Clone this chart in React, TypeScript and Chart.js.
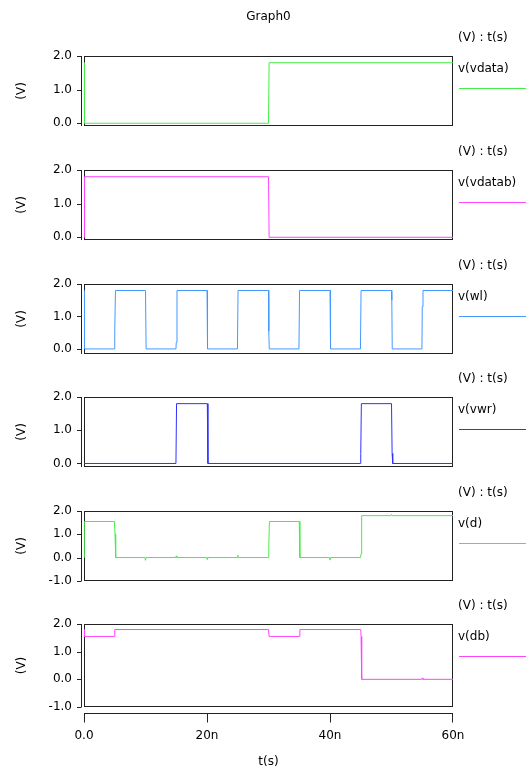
import React, { useEffect, useRef } from 'react';
import { Chart, registerables } from 'chart.js';
Chart.register(...registerables);

// ---- data (time in ns, voltage in V) ----
const xTickValues = [0, 20, 40, 60];
const xTickLabels = ['0.0', '20n', '40n', '60n'];
const yTicksSmall = [0, 1, 2];
const yTicksWide = [-1, 0, 1, 2];

const seriesNames = ['v(vdata)', 'v(vdatab)', 'v(wl)', 'v(vwr)', 'v(d)', 'v(db)'];
const seriesColors = ['#44ee44', '#ff44ff', '#4499ff', '#3030ff', '#44ee44', '#ff44ff'];

const vdataT = [0, 0.08, 30.0, 30.1, 60];
const vdataV = [1.8, 0, 0, 1.8, 1.8];

const vdatabT = [0, 0.08, 30.0, 30.1, 60];
const vdatabV = [0, 1.8, 1.8, 0, 0];

const wlT = [0, 0.08, 4.95, 5.0, 5.12, 10.0, 10.1, 14.95, 15.0, 15.12, 20.0, 20.05, 20.12,
  24.95, 25.05, 30.0, 30.05, 30.12, 34.95, 35.05, 40.0, 40.05, 40.12, 44.95, 45.05,
  50.0, 50.05, 50.12, 54.95, 55.0, 55.12, 60];
const wlV = [1.8, 0, 0, 0.6, 1.8, 1.8, 0, 0, 0.2, 1.8, 1.8, 0.55, 0, 0, 1.8, 1.8, 0.55, 0,
  0, 1.8, 1.8, 1.2, 0, 0, 1.8, 1.8, 1.5, 0, 0, 1.3, 1.8, 1.8];

const vwrT = [0, 14.95, 15.05, 20.05, 20.15, 44.95, 45.0, 45.1, 50.0, 50.1, 50.2, 60];
const vwrV = [0, 0, 1.8, 1.8, 0, 0, 0.3, 1.8, 1.8, 0.3, 0, 0];

const dT = [0, 0.05, 4.95, 5.05, 5.15, 9.9, 10.0, 10.1, 14.9, 15.0, 15.1, 19.9, 20.0, 20.1,
  24.9, 25.0, 25.1, 29.95, 30.05, 30.15, 35.0, 35.1, 39.9, 40.0, 40.1, 44.95, 45.05, 45.15,
  49.9, 50.0, 50.1, 60];
const dV = [0, 1.55, 1.55, 1.0, 0, 0, -0.12, 0, 0, 0.07, 0, 0, -0.08, 0,
  0, 0.1, 0, 0, 0.5, 1.55, 1.55, 0, 0, -0.1, 0, 0, 0.15, 1.8,
  1.8, 1.85, 1.8, 1.8];

const dbT = [0, 0.08, 4.9, 5.0, 30.0, 30.1, 35.0, 35.1, 45.0, 45.05, 45.15, 54.9, 55.0, 55.1, 60];
const dbV = [1.8, 1.55, 1.55, 1.8, 1.8, 1.55, 1.55, 1.8, 1.8, 1.55, 0, 0, 0.05, 0, 0];

const seriesT = [vdataT, vdatabT, wlT, vwrT, dT, dbT];
const seriesV = [vdataV, vdatabV, wlV, vwrV, dV, dbV];
const yMins = [-0.075, -0.075, -0.15, -0.1, -1, -1];
const yMaxs = [2, 2, 2, 2, 2, 2];
const yTickSets = [yTicksSmall, yTicksSmall, yTicksSmall, yTicksSmall, yTicksWide, yTicksWide];

// ---- layout ----
const W = 526;
const PANEL_TOPS = [56, 170, 284, 397, 511, 624];
const PANEL_H = 83;
const PLOT_LEFT = 84;
const PLOT_RIGHT = 453;
const FONT = { family: '"DejaVu Sans", sans-serif', size: 12 };
const FONT_CSS = '12px "DejaVu Sans", sans-serif';

function canvasGeom(i: number) {
  const last = i === 5;
  const top = i === 0 ? 0 : PANEL_TOPS[i] - 28;
  const padTop = PANEL_TOPS[i] - top;
  const height = last ? 771 - top : padTop + PANEL_H + 6;
  return { top, padTop, height, last };
}

const decorPlugin = {
  id: 'panelDecor',
  beforeDatasetsDraw(chart: any, _a: any, opts: any) {
    const { ctx, chartArea: ca } = chart;
    ctx.save();
    ctx.strokeStyle = '#222';
    ctx.lineWidth = 1;
    const l = Math.round(ca.left) + 0.5;
    const r = Math.round(ca.right) - 0.5;
    const t = Math.round(ca.top) + 0.5;
    const b = Math.round(ca.bottom) - 0.5;
    ctx.strokeRect(l, t, r - l, b - t);
    // offset y axis
    const ys = chart.scales.y;
    const ax = Math.round(ca.left) - 3 + 0.5;
    ctx.beginPath();
    ctx.moveTo(ax, t - 0.5);
    ctx.lineTo(ax, b + 0.5);
    ys.ticks.forEach((tk: any) => {
      const py = Math.round(ys.getPixelForValue(tk.value)) + 0.5;
      ctx.moveTo(ax - 4.5, py);
      ctx.lineTo(ax, py);
    });
    ctx.stroke();
    if (opts.last) {
      const xs = chart.scales.x;
      const ay = Math.round(ca.bottom) + 6 + 0.5;
      ctx.beginPath();
      ctx.moveTo(Math.round(ca.left), ay);
      ctx.lineTo(Math.round(ca.right), ay);
      xs.ticks.forEach((tk: any) => {
        let px = Math.round(xs.getPixelForValue(tk.value)) + 0.5;
        if (px > ca.right) px = Math.round(ca.right) - 0.5;
        ctx.moveTo(px, ay);
        ctx.lineTo(px, ay + 9);
      });
      ctx.stroke();
    }
    ctx.restore();
  },
  afterDraw(chart: any, _a: any, opts: any) {
    const { ctx, chartArea: ca } = chart;
    ctx.save();
    ctx.font = FONT_CSS;
    ctx.fillStyle = '#000';
    ctx.textBaseline = 'middle';
    if (opts.title) {
      ctx.textAlign = 'center';
      ctx.fillText(opts.title, (ca.left + ca.right) / 2, ca.top - 39);
    }
    ctx.textAlign = 'left';
    ctx.fillText('(V) : t(s)', 458, ca.top - 18);
    ctx.fillText(opts.name, 458, ca.top + 13);
    ctx.strokeStyle = opts.color;
    ctx.lineWidth = 1;
    ctx.beginPath();
    ctx.moveTo(459, Math.round(ca.top) + 32.5);
    ctx.lineTo(W, Math.round(ca.top) + 32.5);
    ctx.stroke();
    ctx.restore();
  },
};

function makeConfig(i: number): any {
  const g = canvasGeom(i);
  const pts = seriesT[i].map((t, k) => ({ x: t, y: seriesV[i][k] }));
  const yTicks = yTickSets[i];
  return {
    type: 'line',
    data: {
      datasets: [{
        data: pts,
        borderColor: seriesColors[i],
        borderWidth: 1,
        pointRadius: 0,
        tension: 0,
        fill: false,
      }],
    },
    plugins: [decorPlugin],
    options: {
      animation: false,
      responsive: false,
      events: [],
      layout: { padding: { top: g.padTop, left: 0, right: W - PLOT_RIGHT, bottom: g.last ? 0 : 6 } },
      plugins: {
        legend: { display: false },
        tooltip: { enabled: false },
        title: { display: false },
        panelDecor: { last: g.last, name: seriesNames[i], color: seriesColors[i], title: i === 0 ? 'Graph0' : '' },
      },
      scales: {
        x: {
          type: 'linear',
          min: 0,
          max: 60,
          display: g.last,
          afterBuildTicks: (s: any) => { s.ticks = xTickValues.map((v) => ({ value: v })); },
          ticks: {
            callback: (v: any) => xTickLabels[xTickValues.indexOf(Number(v))],
            padding: 22,
            font: FONT,
            color: '#000',
            maxRotation: 0,
            autoSkip: false,
          },
          grid: { display: false, drawTicks: false },
          border: { display: false },
          title: { display: true, text: 't(s)', font: FONT, color: '#000', padding: { top: 0, bottom: 2 } },
          afterFit: (s: any) => { s.height = g.last ? 64 : 0; },
        },
        y: {
          type: 'linear',
          min: yMins[i],
          max: yMaxs[i],
          afterBuildTicks: (s: any) => { s.ticks = yTicks.map((v) => ({ value: v })); },
          ticks: {
            callback: (v: any) => Number(v).toFixed(1),
            padding: 12,
            font: FONT,
            color: '#000',
            autoSkip: false,
          },
          grid: { display: false, drawTicks: false },
          border: { display: false },
          title: { display: true, text: '(V)', font: FONT, color: '#000', padding: { top: 15, bottom: 0 } },
          afterFit: (s: any) => { s.width = PLOT_LEFT; },
        },
      },
    },
  };
}

export default function App() {
  const refs = useRef<(HTMLCanvasElement | null)[]>([]);
  useEffect(() => {
    const charts = refs.current.map((c, i) => (c ? new Chart(c, makeConfig(i)) : null));
    return () => { charts.forEach((ch) => ch && ch.destroy()); };
  }, []);
  return (
    <div style={{ position: 'absolute', left: 0, top: 0, width: W, height: 771, background: '#fff', overflow: 'hidden' }}>
      {PANEL_TOPS.map((_, i) => {
        const g = canvasGeom(i);
        return (
          <canvas
            key={i}
            ref={(el) => { refs.current[i] = el; }}
            width={W}
            height={g.height}
            style={{ position: 'absolute', left: 0, top: g.top, width: W, height: g.height }}
          />
        );
      })}
    </div>
  );
}
